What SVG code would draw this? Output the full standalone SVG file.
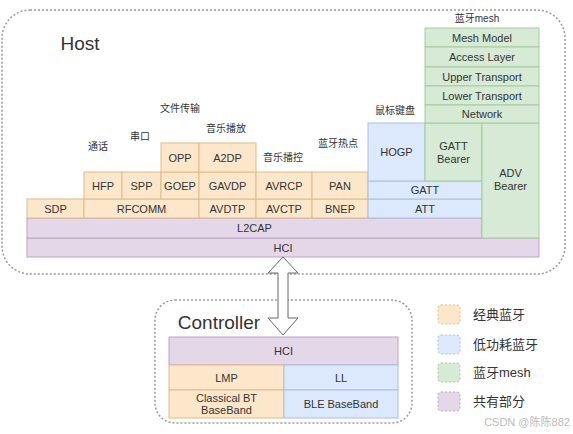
<svg xmlns="http://www.w3.org/2000/svg" width="573" height="434" viewBox="0 0 573 434">
<style>
text{font-family:"Liberation Sans","Noto Sans CJK SC",sans-serif;fill:#333;text-anchor:middle;dominant-baseline:central}
.t{font-size:11px}
.cn{font-size:10px}
.lg{font-size:13px;text-anchor:start}
.cont{fill:none;stroke:#999;stroke-width:1.5;stroke-dasharray:2 2}
.o{fill:#fde7cb;stroke:#dfbb86;stroke-width:1}
.b{fill:#dce8fb;stroke:#a9c0e0;stroke-width:1}
.g{fill:#d7ead5;stroke:#a5cc9b;stroke-width:1}
.p{fill:#e3d7e8;stroke:#baa5c8;stroke-width:1}
.leg{stroke-dasharray:2 2;stroke-width:1}
</style>
<rect width="573" height="434" fill="#fff"/>
<g id="host">
<rect class="cont" x="2" y="10" width="563" height="264" rx="28"/>
<text x="80" y="43" style="font-size:19px">Host</text>
</g>
<g id="controller">
<rect class="cont" x="155" y="300" width="257" height="123" rx="20"/>
<text x="219" y="322" style="font-size:19px">Controller</text>
</g>
<g id="host-hci"><rect class="p" x="27" y="238" width="512" height="19"/><text class="t" x="283" y="247.5">HCI</text></g>
<g id="l2cap"><rect class="p" x="27" y="218" width="455" height="20"/><text class="t" x="254.5" y="228">L2CAP</text></g>
<g id="sdp"><rect class="o" x="27" y="199" width="57" height="19"/><text class="t" x="55.5" y="208.5">SDP</text></g>
<g id="rfcomm"><rect class="o" x="84" y="199" width="115" height="19"/><text class="t" x="141.5" y="208.5">RFCOMM</text></g>
<g id="avdtp"><rect class="o" x="199" y="199" width="57" height="19"/><text class="t" x="227.5" y="208.5">AVDTP</text></g>
<g id="avctp"><rect class="o" x="256" y="199" width="56" height="19"/><text class="t" x="284" y="208.5">AVCTP</text></g>
<g id="bnep"><rect class="o" x="312" y="199" width="56" height="19"/><text class="t" x="340" y="208.5">BNEP</text></g>
<g id="att"><rect class="b" x="368" y="199" width="114" height="19"/><text class="t" x="425" y="208.5">ATT</text></g>
<g id="hfp"><rect class="o" x="84" y="172" width="38" height="27"/><text class="t" x="103" y="185.5">HFP</text></g>
<g id="spp"><rect class="o" x="122" y="172" width="39" height="27"/><text class="t" x="141.5" y="185.5">SPP</text></g>
<g id="goep"><rect class="o" x="161" y="172" width="38" height="27"/><text class="t" x="180" y="185.5">GOEP</text></g>
<g id="gavdp"><rect class="o" x="199" y="172" width="57" height="27"/><text class="t" x="227.5" y="185.5">GAVDP</text></g>
<g id="avrcp"><rect class="o" x="256" y="172" width="56" height="27"/><text class="t" x="284" y="185.5">AVRCP</text></g>
<g id="pan"><rect class="o" x="312" y="172" width="56" height="27"/><text class="t" x="340" y="185.5">PAN</text></g>
<g id="gatt"><rect class="b" x="368" y="181" width="114" height="18"/><text class="t" x="425" y="190">GATT</text></g>
<g id="opp"><rect class="o" x="161" y="143" width="38" height="29"/><text class="t" x="180" y="157.5">OPP</text></g>
<g id="a2dp"><rect class="o" x="199" y="143" width="57" height="29"/><text class="t" x="227.5" y="157.5">A2DP</text></g>
<g id="hogp"><rect class="b" x="368" y="123" width="57" height="58"/><text class="t" x="396.5" y="152">HOGP</text></g>
<g id="gatt-bearer"><rect class="g" x="425" y="123" width="57" height="58"/><text class="t" x="453.5" y="146">GATT</text><text class="t" x="453.5" y="159">Bearer</text></g>
<g id="adv-bearer"><rect class="g" x="482" y="123" width="57" height="115"/><text class="t" x="510.5" y="173">ADV</text><text class="t" x="510.5" y="186">Bearer</text></g>
<g id="mesh-model"><rect class="g" x="425" y="28" width="114" height="19"/><text class="t" x="482" y="37.5">Mesh Model</text></g>
<g id="access-layer"><rect class="g" x="425" y="47" width="114" height="20"/><text class="t" x="482" y="57">Access Layer</text></g>
<g id="upper-transport"><rect class="g" x="425" y="67" width="114" height="19"/><text class="t" x="482" y="76.5">Upper Transport</text></g>
<g id="lower-transport"><rect class="g" x="425" y="86" width="114" height="19"/><text class="t" x="482" y="95.5">Lower Transport</text></g>
<g id="network"><rect class="g" x="425" y="105" width="114" height="18"/><text class="t" x="482" y="114">Network</text></g>
<g id="labels">
<text class="cn" x="477" y="18">蓝牙mesh</text>
<text class="cn" x="395" y="110">鼠标键盘</text>
<text class="cn" x="338" y="143">蓝牙热点</text>
<text class="cn" x="283" y="157">音乐播控</text>
<text class="cn" x="226" y="128">音乐播放</text>
<text class="cn" x="180" y="108">文件传输</text>
<text class="cn" x="140" y="136">串口</text>
<text class="cn" x="98" y="146">通话</text>
</g>
<g id="ctrl-hci"><rect class="p" x="169" y="337" width="229" height="28"/><text class="t" x="283.5" y="351">HCI</text></g>
<g id="lmp"><rect class="o" x="169" y="365" width="115" height="25"/><text class="t" x="226.5" y="377.5">LMP</text></g>
<g id="ll"><rect class="b" x="284" y="365" width="114" height="25"/><text class="t" x="341" y="377.5">LL</text></g>
<g id="classic-bb"><rect class="o" x="169" y="390" width="115" height="28"/><text class="t" x="226.5" y="398">Classical BT</text><text class="t" x="226.5" y="410">BaseBand</text></g>
<g id="ble-bb"><rect class="b" x="284" y="390" width="114" height="28"/><text class="t" x="341" y="404">BLE BaseBand</text></g>
<g id="connectors">
<polygon points="283,257 298,273 288,273 288,318 298,318 283,335 268,318 278,318 278,273 268,273" fill="#fff" stroke="#666" stroke-width="1"/>
</g>
<g id="legend">
<rect class="o leg" x="438" y="305" width="22" height="19" rx="3"/>
<text class="lg" x="473" y="314">经典蓝牙</text>
<rect class="b leg" x="438" y="335" width="22" height="19" rx="3"/>
<text class="lg" x="473" y="344">低功耗蓝牙</text>
<rect class="g leg" x="438" y="363" width="22" height="19" rx="3"/>
<text class="lg" x="473" y="372">蓝牙mesh</text>
<rect class="p leg" x="438" y="392" width="22" height="19" rx="3"/>
<text class="lg" x="473" y="401">共有部分</text>
<text x="527" y="422" style="font-size:11px;fill:#bbb">CSDN @陈陈882</text>
</g>
</svg>
